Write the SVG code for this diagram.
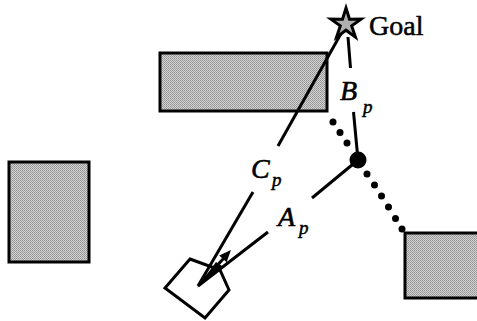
<svg xmlns="http://www.w3.org/2000/svg" width="477" height="321" viewBox="0 0 477 321">
<style>
.obs{fill:url(#dither);stroke:#000;stroke-width:3}
.ln{stroke:#000;stroke-width:3;fill:none;stroke-linecap:butt}
.dot{fill:#000}
.lbl{font-family:"Liberation Serif","Times New Roman",serif;font-style:italic;fill:#000;stroke:#000;stroke-width:0.6}
.sub{font-family:"Liberation Serif","Times New Roman",serif;font-style:italic;fill:#000;stroke:#000;stroke-width:0.5;font-size:19px}
</style>
<defs>
<pattern id="dither" width="2" height="2" patternUnits="userSpaceOnUse">
<rect width="2" height="2" fill="#d2d2d2"/>
<rect x="0" y="0" width="1" height="1" fill="#939393"/>
<rect x="1" y="1" width="1" height="1" fill="#a0a0a0"/>
</pattern>
</defs>
<rect width="477" height="321" fill="#fff"/>
<g id="obstacle-top"><rect class="obs" x="160" y="53" width="167" height="58"/></g>
<g id="obstacle-left"><rect class="obs" x="9" y="162" width="80" height="100"/></g>
<g id="obstacle-right"><rect class="obs" x="405" y="233" width="74" height="65"/></g>
<g id="connectors">
<line class="ln" x1="343" y1="30" x2="278" y2="146"/>
<line class="ln" x1="253" y1="192" x2="198" y2="286"/>
<line class="ln" x1="348" y1="37" x2="350.5" y2="68"/>
<line class="ln" x1="353.5" y1="112" x2="358" y2="160"/>
<line class="ln" x1="358" y1="160" x2="312" y2="198"/>
<line class="ln" x1="268" y1="232" x2="198" y2="286"/>
<g class="dot">
<circle cx="333" cy="122" r="3.5"/><circle cx="340" cy="132.5" r="3.5"/><circle cx="347" cy="143" r="3.5"/>
<circle cx="367" cy="174" r="3.5"/><circle cx="374.5" cy="185" r="3.5"/><circle cx="381.5" cy="196" r="3.5"/>
<circle cx="388.5" cy="207" r="3.5"/><circle cx="395.5" cy="218.5" r="3.5"/><circle cx="402" cy="229" r="3.5"/>
</g>
</g>
<g id="goal">
<polygon points="346,8 349.5,19.2 361.2,19.1 351.7,25.9 355.4,37.1 346,30.2 336.6,37.1 340.3,25.9 330.8,19.1 342.5,19.2" fill="#b0b0b0" stroke="#000" stroke-width="3" stroke-linejoin="miter"/>
<text x="369" y="35" font-family="Liberation Serif,Times New Roman,serif" font-size="28" fill="#000" stroke="#000" stroke-width="0.5">Goal</text>
</g>
<g id="waypoint"><circle cx="358" cy="160" r="8.5" fill="#000"/></g>
<g id="robot">
<polygon points="190,259 220,270 229,290 205,318 165,288" fill="none" stroke="#000" stroke-width="3" stroke-linejoin="miter"/>
<polygon points="197,288 216,262 222,266" fill="#000"/>
<line class="ln" x1="200" y1="284" x2="224" y2="258"/>
<polygon points="231,250 219.2,255.4 226.6,262.2" fill="#000"/>
</g>
<g id="labels">
<text class="lbl" x="340" y="100" font-size="28">B</text><text class="sub" x="363" y="113">p</text>
<text class="lbl" x="251" y="178" font-size="28">C</text><text class="sub" x="272" y="186">p</text>
<text class="lbl" x="278" y="226" font-size="28">A</text><text class="sub" x="299" y="234">p</text>
</g>
</svg>
